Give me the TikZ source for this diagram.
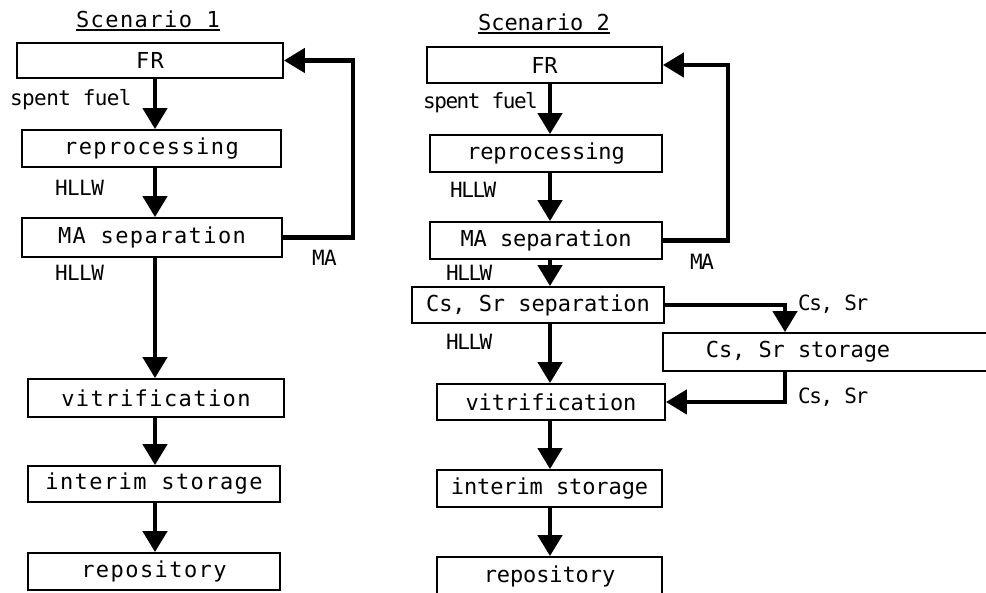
\documentclass[tikz,border=0pt]{standalone}
\usepackage{fontspec}
\newfontfamily\boxfontA[LetterSpace=6.5]{DejaVu Sans Mono}
\newfontfamily\boxfontB[LetterSpace=-0.5]{DejaVu Sans Mono}
\newfontfamily\lblfontA[LetterSpace=-3]{DejaVu Sans Mono}
\newfontfamily\lblfontB[LetterSpace=-7]{DejaVu Sans Mono}
\usetikzlibrary{arrows.meta}
\tikzset{
  boxA/.style={draw, line width=1.8pt, inner sep=0pt, font=\boxfontA\fontsize{22}{26}\selectfont},
  boxB/.style={draw, line width=1.8pt, inner sep=0pt, font=\boxfontB\fontsize{22}{26}\selectfont},
  ttlA/.style={anchor=base, inner sep=0pt, font=\boxfontA\fontsize{22}{26}\selectfont},
  ttlB/.style={anchor=base, inner sep=0pt, font=\boxfontB\fontsize{22}{26}\selectfont},
  lblA/.style={anchor=west, inner sep=0pt, font=\lblfontA\fontsize{21}{25}\selectfont},
  lblB/.style={anchor=west, inner sep=0pt, font=\lblfontB\fontsize{21}{25}\selectfont},
  flow/.style={line width=4.5pt, -{Triangle[width=24pt,length=21pt]}},
  uline/.style={line width=1.3pt}
}
\begin{document}
\begin{tikzpicture}[x=1pt,y=-1pt]
\useasboundingbox (0,0) rectangle (986,593);
% ---------- Scenario 1 ----------
\node[ttlA] (t1) at (148,28) {Scenario 1};
\draw[uline] ([yshift=-2pt]t1.base west) -- ([yshift=-2pt]t1.base east);
\node[boxA, minimum width=266, minimum height=35] (FR1) at (150,60.5) {FR};
\node[boxA, minimum width=259, minimum height=37] (rep1) at (151.5,148.5) {reprocessing};
\node[boxA, minimum width=260, minimum height=39] (ma1) at (152,237.5) {MA separation};
\node[boxA, minimum width=256, minimum height=38] (vit1) at (156,398) {vitrification};
\node[boxA, minimum width=252, minimum height=36] (int1) at (154,484) {interim storage};
\node[boxA, minimum width=252, minimum height=37] (repo1) at (154,571.5) {repository};
\coordinate (colA) at (155,0);
\coordinate (fbA) at (353,0);
\draw[flow] (colA |- FR1.south) -- (colA |- rep1.north);
\draw[flow] (colA |- rep1.south) -- (colA |- ma1.north);
\draw[flow] (colA |- ma1.south) -- (colA |- vit1.north);
\draw[flow] (colA |- vit1.south) -- (colA |- int1.north);
\draw[flow] (colA |- int1.south) -- (colA |- repo1.north);
\draw[flow] (ma1.east) -- (ma1.east -| fbA) -- (fbA |- FR1.east) -- (FR1.east);
\node[lblA] (sf1) at (10,100) {spent fuel};
\node[lblA] (h1a) at (55,188) {HLLW};
\node[lblA] (h1b) at (55,273) {HLLW};
\node[lblA] (ma1l) at (312,258) {MA};
% ---------- Scenario 2 ----------
\node[ttlB] (t2) at (544,31) {Scenario 2};
\draw[uline] ([yshift=-2pt]t2.base west) -- ([yshift=-2pt]t2.base east);
\node[boxB, minimum width=235, minimum height=36] (FR2) at (544.5,65) {FR};
\node[boxB, minimum width=232, minimum height=37] (rep2) at (546,153.5) {reprocessing};
\node[boxB, minimum width=232, minimum height=37] (ma2) at (546,240.5) {MA separation};
\node[boxB, minimum width=252, minimum height=36] (cs2) at (538,305) {Cs, Sr separation};
\node[boxB, anchor=west, minimum height=38, inner xsep=43] (sto2) at (662,352) {\makebox[244pt][l]{Cs, Sr storage}};
\node[boxB, minimum width=228, minimum height=36] (vit2) at (551,402) {vitrification};
\node[boxB, minimum width=225, minimum height=37] (int2) at (549.5,488.5) {interim storage};
\node[boxB, minimum width=225, minimum height=38] (repo2) at (549.5,576) {repository};
\coordinate (colB) at (550,0);
\coordinate (fbB) at (728,0);
\coordinate (csx) at (785,0);
\draw[flow] (colB |- FR2.south) -- (colB |- rep2.north);
\draw[flow] (colB |- rep2.south) -- (colB |- ma2.north);
\draw[flow] (colB |- ma2.south) -- (colB |- cs2.north);
\draw[flow] (colB |- cs2.south) -- (colB |- vit2.north);
\draw[flow] (colB |- vit2.south) -- (colB |- int2.north);
\draw[flow] (colB |- int2.south) -- (colB |- repo2.north);
\draw[flow] (ma2.east) -- (ma2.east -| fbB) -- (fbB |- FR2.east) -- (FR2.east);
\draw[flow] (cs2.east) -- (cs2.east -| csx) -- (csx |- sto2.north);
\draw[flow] (csx |- sto2.south) -- (csx |- vit2.east) -- (vit2.east);
\node[lblB] (sf2) at (423,103) {spent fuel};
\node[lblB] (h2a) at (450,190) {HLLW};
\node[lblB] (h2b) at (446,273) {HLLW};
\node[lblB] (h2c) at (446,342) {HLLW};
\node[lblB] (ma2l) at (690,262) {MA};
\node[lblB] (cs2a) at (798,304) {Cs, Sr};
\node[lblB] (cs2b) at (798,397) {Cs, Sr};
\end{tikzpicture}
\end{document}
